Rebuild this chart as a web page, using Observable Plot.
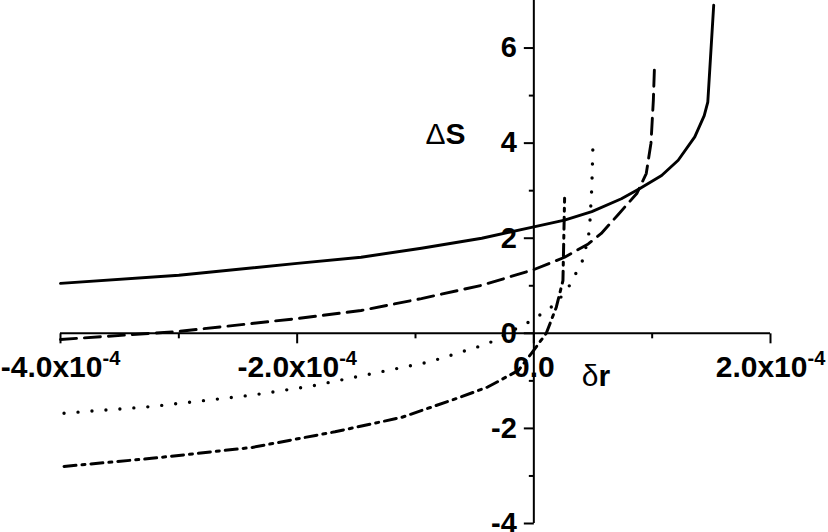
<!DOCTYPE html>
<html>
<head>
<meta charset="utf-8">
<script src="https://cdn.jsdelivr.net/npm/d3@7"></script>
<script src="https://cdn.jsdelivr.net/npm/@observablehq/plot@0.6"></script>
<style>
  html, body { margin: 0; padding: 0; background: #fff; }
  svg { display: block; }
</style>
</head>
<body>
<div id="chart"></div>
<script>
// δr values are given in units of 1e-4
const X_UNIT = 1e-4;

// Solid curve
const solidX = [-4.0, -3.0, -2.0, -1.46, -0.95, -0.44, 0.0, 0.26, 0.49, 0.74, 0.90, 1.08, 1.22, 1.36, 1.44, 1.47, 1.52];
const solidY = [1.05, 1.22, 1.47, 1.60, 1.79, 2.00, 2.24, 2.38, 2.56, 2.83, 3.05, 3.32, 3.64, 4.13, 4.58, 4.86, 6.90];

// Dashed curve
const dashedX = [-4.0, -3.0, -2.0, -1.46, -0.95, -0.44, 0.0, 0.26, 0.46, 0.57, 0.71, 0.87, 0.95, 0.99, 1.01, 1.02];
const dashedY = [-0.13, 0.04, 0.31, 0.48, 0.73, 1.01, 1.34, 1.60, 1.88, 2.10, 2.49, 2.94, 3.36, 4.00, 4.90, 5.64];

// Dotted curve
const dottedX = [-3.97, -3.23, -2.38, -1.88, -0.88, -0.39, -0.04, 0.08, 0.19, 0.30, 0.37, 0.42, 0.47, 0.49, 0.50];
const dottedY = [-1.68, -1.54, -1.30, -1.11, -0.60, -0.22, 0.24, 0.43, 0.63, 1.00, 1.33, 1.57, 2.16, 3.07, 4.00];

// Dash-dot curve
const dashDotX = [-3.97, -3.23, -2.38, -1.68, -1.12, -0.675, -0.39, -0.13, -0.02, 0.06, 0.105, 0.19, 0.246, 0.26];
const dashDotY = [-2.80, -2.63, -2.40, -2.07, -1.77, -1.39, -1.13, -0.78, -0.42, -0.15, 0.00, 0.55, 1.11, 2.84];

// Axes ticks and labels
const xMajorTicks = [-4, -2, 0, 2];
const xMinorTicks = [-3, -1, 1];
const xTickLabels = ["-4.0x10", "-2.0x10", "0.0", "2.0x10"];
const xExponent = "-4";
const yMajorTicks = [-4, -2, 0, 2, 4, 6];
const yMinorTicks = [-3, -1, 1, 3, 5];
const yTickLabels = ["-4", "-2", "0", "2", "4", "6"];

const series = (xs, ys) => xs.map((x, i) => ({x: x * X_UNIT, y: ys[i]}));

const FONT = "'Liberation Sans', Arial, Helvetica, sans-serif";

const tickDown = (len) => ({draw(ctx) { ctx.moveTo(0, 0); ctx.lineTo(0, len); }});
const tickLeft = (len) => ({draw(ctx) { ctx.moveTo(0, 0); ctx.lineTo(-len, 0); }});

const lineStyle = {x: "x", y: "y", stroke: "black", fill: "none", strokeWidth: 2.9, curve: "linear"};

const svg = Plot.plot({
  width: 828,
  height: 532,
  marginLeft: 60,
  marginRight: 58,
  marginTop: 0,
  marginBottom: 9,
  style: {fontFamily: FONT, background: "white", color: "black", overflow: "visible"},
  x: {domain: [-4 * X_UNIT, 2 * X_UNIT], axis: null},
  y: {domain: [-4, 7], axis: null},
  marks: [
    // tick labels
    Plot.text(xMajorTicks, {x: d => d * X_UNIT, y: () => 0, text: (d, i) => xTickLabels[i],
      dy: 34, fontSize: 30, fontWeight: "bold", textAnchor: "middle", lineAnchor: "middle", fill: "black"}),
    Plot.text(yMajorTicks, {x: () => 0, y: d => d, text: (d, i) => yTickLabels[i],
      dx: -17, fontSize: 29, fontWeight: "bold", textAnchor: "end", lineAnchor: "middle", fill: "black"}),
    // axes
    Plot.ruleY([0], {stroke: "black", strokeWidth: 2}),
    Plot.ruleX([0], {stroke: "black", strokeWidth: 2}),
    Plot.dot(xMajorTicks, {x: d => d * X_UNIT, y: () => 0, symbol: tickDown(10), stroke: "black", fill: "none", strokeWidth: 2}),
    Plot.dot(xMinorTicks, {x: d => d * X_UNIT, y: () => 0, symbol: tickDown(5), stroke: "black", fill: "none", strokeWidth: 2}),
    Plot.dot(yMajorTicks, {x: () => 0, y: d => d, symbol: tickLeft(10), stroke: "black", fill: "none", strokeWidth: 2}),
    Plot.dot(yMinorTicks, {x: () => 0, y: d => d, symbol: tickLeft(5), stroke: "black", fill: "none", strokeWidth: 2}),
    // curves
    Plot.line(series(solidX, solidY), {...lineStyle}),
    Plot.line(series(dashedX, dashedY), {...lineStyle, strokeDasharray: "16,8"}),
    Plot.line(series(dottedX, dottedY), {...lineStyle, strokeWidth: 3.4, strokeDasharray: "0,14", strokeLinecap: "round"}),
    Plot.line(series(dashDotX, dashDotY), {...lineStyle, strokeWidth: 3, strokeDasharray: "12,6,3,6"}),
    // axis titles
    Plot.text(["Δ"], {text: d => d, frameAnchor: "top-left", dx: 385, dy: 133.5, fontSize: 30, fontWeight: "normal", textAnchor: "end", lineAnchor: "middle", fill: "black"}),
    Plot.text(["S"], {text: d => d, frameAnchor: "top-left", dx: 385, dy: 133.5, fontSize: 30, fontWeight: "bold", textAnchor: "start", lineAnchor: "middle", fill: "black"}),
    Plot.text(["δ"], {text: d => d, frameAnchor: "top-left", dx: 538, dy: 375.5, fontSize: 30, fontWeight: "normal", textAnchor: "end", lineAnchor: "middle", fill: "black"}),
    Plot.text(["r"], {text: d => d, frameAnchor: "top-left", dx: 538, dy: 375.5, fontSize: 30, fontWeight: "bold", textAnchor: "start", lineAnchor: "middle", fill: "black"})
  ]
});

// superscript exponent on the x tick labels
d3.select(svg).selectAll("text")
  .filter(function() { return /x10$/.test(this.textContent); })
  .append("tspan")
  .attr("dy", -12)
  .attr("font-size", 20)
  .text(xExponent);

document.getElementById("chart").appendChild(svg);
</script>
</body>
</html>
